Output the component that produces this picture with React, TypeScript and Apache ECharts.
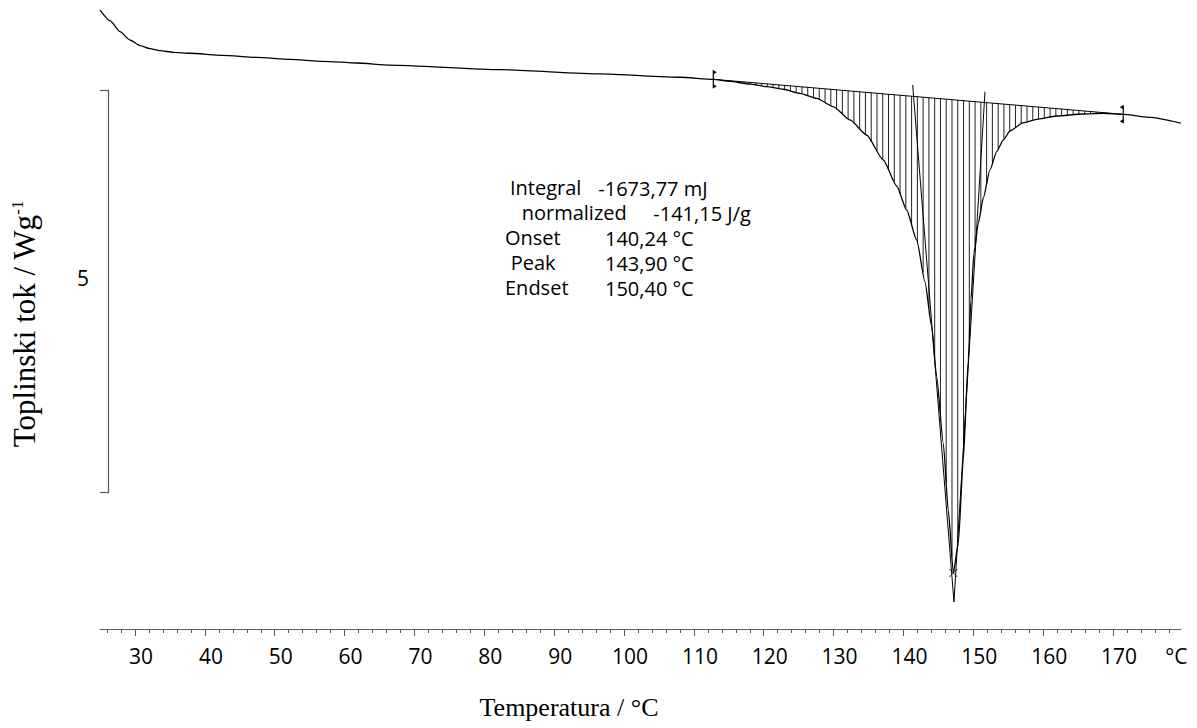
import React, { useEffect, useRef } from "react";
import * as echarts from "echarts";

// DSC curve: temperature (°C) and heat flow (W/g, arbitrary offset)
const curveT = [
  25.0, 26.42, 27.85, 29.28, 30.71, 32.14, 33.57, 35.44, 37.87, 42.59, 47.46, 52.18, 56.91, 61.77,
  66.5, 82.25, 96.57, 108.02, 112.78, 115.18, 118.03, 120.42, 122.8, 125.18, 127.57, 129.95, 132.34,
  134.73, 137.11, 139.03, 140.46, 141.89, 143.08, 144.04, 144.75, 145.7, 146.41, 147.14, 147.85,
  148.56, 149.28, 149.66, 150.09, 150.71, 151.43, 152.38, 153.34, 154.29, 155.25, 157.15, 159.07,
  161.93, 165.74, 168.6, 171.46, 175.29, 179.7,
];
const curveV = [
  5.993, 5.861, 5.724, 5.621, 5.55, 5.513, 5.488, 5.468, 5.456, 5.431, 5.406, 5.381, 5.356, 5.335,
  5.31, 5.252, 5.2, 5.158, 5.133, 5.106, 5.074, 5.041, 5.009, 4.959, 4.897, 4.793, 4.628, 4.441,
  4.131, 3.808, 3.51, 3.138, 2.616, 2.061, 1.44, 0.613, -0.215, -0.997, -0.625, 0.406, 1.648, 2.393,
  2.976, 3.345, 3.659, 4.007, 4.234, 4.379, 4.491, 4.594, 4.636, 4.677, 4.702, 4.711, 4.698, 4.661,
  4.59,
];

// integration limits (°C)
const integStart = 112.78;
const integEnd = 171.46;
const hatchStepC = 0.826;

// tangents and peak
const tangentLeftT = [141.32, 147.23];
const tangentLeftV = [5.062, -1.357];
const tangentRightT = [151.67, 147.23];
const tangentRightV = [4.979, -1.357];
const peakPoint = [147.14, -0.997];

// axes
const xMin = 25;
const xMax = 179.7;
const majorTicks = [30, 40, 50, 60, 70, 80, 90, 100, 110, 120, 130, 140, 150, 160, 170];
const unitLabelPos = 178.2;
const scaleBarRange = [0, 5];
const scaleBarLabel = "5";

const annotationLabels = ["Integral", "normalized", "Onset", "Peak", "Endset"];
const annotationValues = ["-1673,77 mJ", "-141,15 J/g", "140,24 °C", "143,90 °C", "150,40 °C"];

const SANS = "'Open Sans', 'Noto Sans', sans-serif";
const SERIF = "'Liberation Serif', 'DejaVu Serif', serif";

function curveAt(t: number): number {
  for (let i = 0; i < curveT.length - 1; i++) {
    if (t >= curveT[i] && t <= curveT[i + 1]) {
      const f = (t - curveT[i]) / (curveT[i + 1] - curveT[i]);
      return curveV[i] + f * (curveV[i + 1] - curveV[i]);
    }
  }
  return curveV[curveV.length - 1];
}

export default function App() {
  const ref = useRef<HTMLDivElement>(null);

  useEffect(() => {
    if (!ref.current) return;
    const chart = echarts.init(ref.current, null, { renderer: "svg" });

    const vStart = curveAt(integStart);
    const vEnd = curveAt(integEnd);
    const baseAt = (t: number) => vStart + ((t - integStart) / (integEnd - integStart)) * (vEnd - vStart);

    const hatchData: number[][] = [];
    for (let t = integStart + 0.3; t < integEnd; t += hatchStepC) {
      hatchData.push([t, baseAt(t), curveAt(t)]);
    }

    const minorTicks: number[] = [];
    for (let t = 26; t <= 178; t += 2) minorTicks.push(t);

    const curveData = curveT.map((t, i) => [t, curveV[i]]);

    const labelXs = [510, 521.7, 505, 510.7, 505];
    const labelYs = [187, 212, 237, 262, 287];
    const valueXs = [598.3, 653.3, 605, 605, 605];
    const valueYs = [188, 213, 238, 263, 288];

    const graphics: any[] = [];
    annotationLabels.forEach((s, i) => {
      graphics.push({
        type: "text",
        x: labelXs[i],
        y: labelYs[i],
        style: { text: s, font: `20px ${SANS}`, lineHeight: 18, fill: "#000", textAlign: "left", textVerticalAlign: "middle" },
      });
      graphics.push({
        type: "text",
        x: valueXs[i],
        y: valueYs[i],
        style: { text: annotationValues[i], font: `20px ${SANS}`, lineHeight: 18, fill: "#000", textAlign: "left", textVerticalAlign: "middle" },
      });
    });
    graphics.push({
      type: "text",
      x: 89,
      y: 278,
      style: { text: scaleBarLabel, font: `21px ${SANS}`, fill: "#000", textAlign: "right", textVerticalAlign: "middle" },
    });
    graphics.push({
      type: "text",
      x: 569,
      y: 707,
      style: { text: "Temperatura / °C", font: `26px ${SERIF}`, fill: "#000", textAlign: "center", textVerticalAlign: "middle" },
    });
    graphics.push({
      type: "text",
      x: 24,
      y: 324,
      rotation: Math.PI / 2,
      style: {
        text: "{a|Toplinski tok / Wg}{b|-1}",
        textAlign: "center",
        textVerticalAlign: "middle",
        rich: {
          a: { fontFamily: SERIF, fontSize: 31, fill: "#000", color: "#000" },
          b: { fontFamily: SERIF, fontSize: 17, fill: "#000", color: "#000", verticalAlign: "top", padding: [0, 0, 14, 0] },
        },
      },
    });

    const axisGray = "#5a5a5a";

    chart.setOption({
      animation: false,
      backgroundColor: "#fff",
      grid: [
        { left: 100.1, right: 16.2, top: 9.46, bottom: 114.5, containLabel: false, outerBoundsMode: "none" },
        { left: 108, top: 90, height: 402.7, width: 10, containLabel: false, outerBoundsMode: "none" },
      ],
      xAxis: [
        {
          type: "value",
          gridIndex: 0,
          min: xMin,
          max: xMax,
          position: "bottom",
          offset: 15.5,
          axisLine: { show: true, onZero: false, lineStyle: { color: axisGray, width: 1.2 } },
          axisTick: { show: true, length: 4, customValues: minorTicks, lineStyle: { color: axisGray } },
          axisLabel: { show: false },
          splitLine: { show: false },
        },
        {
          type: "value",
          gridIndex: 0,
          min: xMin,
          max: xMax,
          position: "bottom",
          offset: 15.5,
          axisLine: { show: false, onZero: false },
          axisTick: { show: true, length: 7, customValues: majorTicks, lineStyle: { color: axisGray } },
          axisLabel: {
            show: true,
            customValues: [...majorTicks, unitLabelPos],
            formatter: (v: number) => (v > 175 ? "°C" : String(v)),
            fontFamily: SANS,
            fontSize: 21,
            color: "#000",
            margin: 16,
            padding: [0, 0, 0, 12],
          },
          splitLine: { show: false },
        },
        { type: "value", gridIndex: 1, show: false, min: 0, max: 1 },
      ],
      yAxis: [
        { type: "value", gridIndex: 0, min: -1.5, max: 6, show: false },
        {
          type: "value",
          gridIndex: 1,
          min: scaleBarRange[0],
          max: scaleBarRange[1],
          interval: 5,
          position: "left",
          axisLine: { show: true, onZero: false, lineStyle: { color: axisGray, width: 1.2 } },
          axisTick: { show: true, length: 8, lineStyle: { color: axisGray, width: 1.2 } },
          axisLabel: { show: false },
          splitLine: { show: false },
        },
      ],
      series: [
        {
          type: "custom",
          xAxisIndex: 0,
          yAxisIndex: 0,
          data: hatchData,
          encode: { x: 0, y: [1, 2] },
          clip: false,
          renderItem: (params: any, api: any) => {
            const t = api.value(0);
            const p1 = api.coord([t, api.value(1)]);
            const p2 = api.coord([t, api.value(2)]);
            return {
              type: "line",
              shape: { x1: p1[0], y1: p1[1], x2: p2[0], y2: p2[1] },
              style: { stroke: "#222", lineWidth: 1 },
            };
          },
          z: 1,
        },
        {
          type: "line",
          xAxisIndex: 0,
          yAxisIndex: 0,
          data: [
            [integStart, curveAt(integStart)],
            [integEnd, curveAt(integEnd)],
          ],
          symbol: "none",
          lineStyle: { color: "#000", width: 1 },
          z: 2,
        },
        {
          type: "line",
          xAxisIndex: 0,
          yAxisIndex: 0,
          data: tangentLeftT.map((t, i) => [t, tangentLeftV[i]]),
          symbol: "none",
          lineStyle: { color: "#000", width: 1 },
          z: 2,
        },
        {
          type: "line",
          xAxisIndex: 0,
          yAxisIndex: 0,
          data: tangentRightT.map((t, i) => [t, tangentRightV[i]]),
          symbol: "none",
          lineStyle: { color: "#000", width: 1 },
          z: 2,
        },
        {
          type: "line",
          xAxisIndex: 0,
          yAxisIndex: 0,
          data: curveData,
          symbol: "none",
          clip: false,
          smooth: 0.2,
          smoothMonotone: "x",
          lineStyle: { color: "#000", width: 1.3 },
          z: 3,
        },
        {
          type: "custom",
          xAxisIndex: 0,
          yAxisIndex: 0,
          data: [
            [integStart, curveAt(integStart), 1],
            [integEnd, curveAt(integEnd), -1],
          ],
          encode: { x: 0, y: 1 },
          clip: false,
          renderItem: (params: any, api: any) => {
            const p = api.coord([api.value(0), api.value(1)]);
            const d = api.value(2);
            const x = p[0];
            const y = p[1];
            return {
              type: "group",
              children: [
                { type: "line", shape: { x1: x, y1: y - 9, x2: x, y2: y + 9 }, style: { stroke: "#000", lineWidth: 1.2 } },
                { type: "polygon", shape: { points: [[x, y - 9], [x + 3.5 * d, y - 7], [x, y - 5]] }, style: { fill: "#000" } },
                { type: "polygon", shape: { points: [[x, y + 5], [x + 3.5 * d, y + 7], [x, y + 9]] }, style: { fill: "#000" } },
              ],
            };
          },
          z: 4,
        },
        {
          type: "scatter",
          xAxisIndex: 0,
          yAxisIndex: 0,
          data: [peakPoint],
          symbol: "path://M0,0L10,10M10,0L0,10",
          symbolSize: 8,
          itemStyle: { color: "none", borderColor: "#000", borderWidth: 1 },
          z: 5,
        },
      ],
      graphic: graphics,
    });

    return () => chart.dispose();
  }, []);

  return (
    <div
      ref={ref}
      style={{ position: "fixed", left: 0, top: 0, width: 1197, height: 728, background: "#fff" }}
    />
  );
}
